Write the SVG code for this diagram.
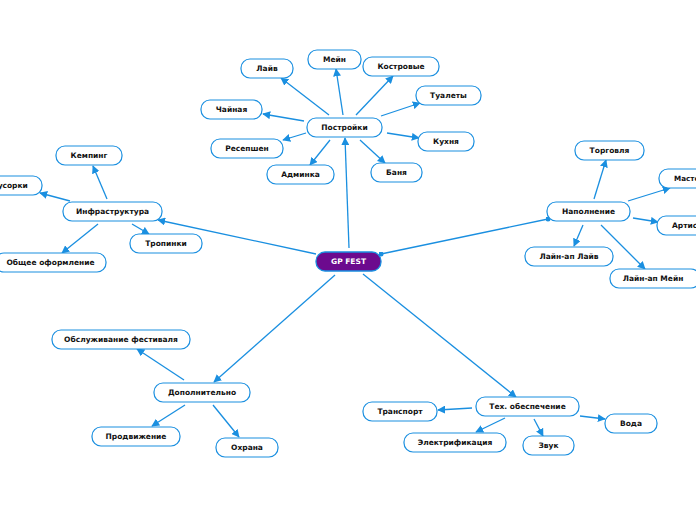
<svg xmlns="http://www.w3.org/2000/svg" width="696" height="520" viewBox="0 0 696 520">
<defs>
<marker id="arr" viewBox="0 0 10 10" refX="9" refY="5" markerWidth="8" markerHeight="8" markerUnits="userSpaceOnUse" orient="auto">
<path d="M0,0 L10,5 L0,10 z" fill="#1a8fe0"/>
</marker>
<marker id="dot" viewBox="0 0 10 10" refX="5" refY="5" markerWidth="5" markerHeight="5" markerUnits="userSpaceOnUse">
<circle cx="5" cy="5" r="5" fill="#1a8fe0"/>
</marker>
<style>
.n rect{fill:#fff;stroke:#1a8fe0;stroke-width:1.2}
text{font-family:"DejaVu Sans",Verdana,sans-serif;font-size:7.5px;font-weight:bold;fill:#111;text-anchor:middle;dominant-baseline:central}
.c line{stroke:#1a8fe0;stroke-width:1.3;marker-end:url(#arr)}
.c line.d{marker-start:url(#dot);marker-end:url(#dot)}
#main rect{fill:#6c0a8e;stroke:#1a8fe0;stroke-width:1.3}
#main text{fill:#fff}
</style>
</defs>
<rect width="696" height="520" fill="#fff"/>
<g class="c">
<line x1="349" y1="248" x2="345" y2="138"/>
<line x1="329" y1="115" x2="281" y2="78"/>
<line x1="343" y1="115" x2="336" y2="69"/>
<line x1="356" y1="115" x2="393" y2="76"/>
<line x1="381" y1="116" x2="420" y2="103"/>
<line x1="304" y1="121" x2="263" y2="114"/>
<line x1="387" y1="133" x2="419" y2="138"/>
<line x1="306" y1="133" x2="283" y2="140"/>
<line x1="330" y1="140" x2="310" y2="165"/>
<line x1="360" y1="140" x2="385" y2="163"/>
<line x1="316" y1="254" x2="158" y2="220"/>
<line x1="107" y1="199" x2="93" y2="166"/>
<line x1="70" y1="201" x2="40" y2="193"/>
<line x1="98" y1="224" x2="62" y2="253"/>
<line x1="132" y1="224" x2="149" y2="234"/>
<line class="d" x1="381" y1="254" x2="548" y2="219"/>
<line x1="594" y1="199" x2="606" y2="160"/>
<line x1="628" y1="201" x2="670" y2="188"/>
<line x1="633" y1="218" x2="658" y2="222"/>
<line x1="583" y1="225" x2="574" y2="246"/>
<line x1="601" y1="225" x2="645" y2="269"/>
<line x1="335" y1="275" x2="214" y2="382"/>
<line x1="184" y1="380" x2="137" y2="349"/>
<line x1="185" y1="405" x2="152" y2="426"/>
<line x1="213" y1="405" x2="239" y2="437"/>
<line x1="363" y1="274" x2="516" y2="397"/>
<line x1="472" y1="408" x2="438" y2="410"/>
<line x1="505" y1="418" x2="476" y2="432"/>
<line x1="534" y1="419" x2="543" y2="436"/>
<line x1="580" y1="416" x2="605" y2="419"/>
</g>
<g id="main"><rect x="316" y="252" width="65" height="19" rx="9"/><text x="348.5" y="261.5">GP FEST</text></g>
<g id="postroyki" class="n"><rect x="307" y="118" width="75" height="19" rx="9"/><text x="344.5" y="127.5">Постройки</text></g>
<g id="layv" class="n"><rect x="241" y="59" width="52" height="19" rx="9"/><text x="267" y="68.5">Лайв</text></g>
<g id="meyn" class="n"><rect x="308" y="50" width="53" height="19" rx="9"/><text x="334.5" y="59.5">Мейн</text></g>
<g id="kostrovye" class="n"><rect x="363" y="57" width="76" height="19" rx="9"/><text x="401" y="66.5">Костровые</text></g>
<g id="tualety" class="n"><rect x="416" y="86" width="65" height="19" rx="9"/><text x="448.5" y="95.5">Туалеты</text></g>
<g id="chaynaya" class="n"><rect x="201" y="100" width="61" height="19" rx="9"/><text x="231.5" y="109.5">Чайная</text></g>
<g id="kukhnya" class="n"><rect x="418" y="132" width="56" height="19" rx="9"/><text x="446" y="141.5">Кухня</text></g>
<g id="resepshen" class="n"><rect x="211" y="139" width="72" height="19" rx="9"/><text x="247" y="148.5">Ресепшен</text></g>
<g id="adminka" class="n"><rect x="267" y="165" width="67" height="19" rx="9"/><text x="300.5" y="174.5">Админка</text></g>
<g id="banya" class="n"><rect x="371" y="163" width="51" height="19" rx="9"/><text x="396.5" y="172.5">Баня</text></g>
<g id="infra" class="n"><rect x="63" y="202" width="99" height="19" rx="9"/><text x="112.5" y="211.5">Инфраструктура</text></g>
<g id="kemping" class="n"><rect x="56" y="146" width="66" height="19" rx="9"/><text x="89" y="155.5">Кемпинг</text></g>
<g id="musorki" class="n"><rect x="-24" y="176" width="66" height="19" rx="9"/><text x="9" y="185.5">Мусорки</text></g>
<g id="oformlenie" class="n"><rect x="-5" y="253" width="111" height="19" rx="9"/><text x="50.5" y="262.5">Общее оформление</text></g>
<g id="tropinki" class="n"><rect x="130" y="234" width="72" height="19" rx="9"/><text x="166" y="243.5">Тропинки</text></g>
<g id="napolnenie" class="n"><rect x="547" y="202" width="83" height="19" rx="9"/><text x="588.5" y="211.5">Наполнение</text></g>
<g id="torgovlya" class="n"><rect x="575" y="141" width="69" height="19" rx="9"/><text x="609.5" y="150.5">Торговля</text></g>
<g id="master" class="n"><rect x="659" y="169" width="90" height="19" rx="9"/><text x="674" y="178.5" style="text-anchor:start;font-size:7.2px">Мастер-классы</text></g>
<g id="artisty" class="n"><rect x="657" y="216" width="70" height="19" rx="9"/><text x="672" y="225.5" style="text-anchor:start">Артисты</text></g>
<g id="lineup-layv" class="n"><rect x="525" y="247" width="88" height="19" rx="9"/><text x="569" y="256.5">Лайн-ап Лайв</text></g>
<g id="lineup-meyn" class="n"><rect x="610" y="269" width="90" height="19" rx="9"/><text x="653" y="278.5">Лайн-ап Мейн</text></g>
<g id="dop" class="n"><rect x="154" y="383" width="96" height="19" rx="9"/><text x="202" y="392.5">Дополнительно</text></g>
<g id="obsluzh" class="n"><rect x="52" y="330" width="138" height="19" rx="9"/><text x="121" y="339.5">Обслуживание фестиваля</text></g>
<g id="prodv" class="n"><rect x="92" y="427" width="88" height="19" rx="9"/><text x="136" y="436.5">Продвижение</text></g>
<g id="okhrana" class="n"><rect x="216" y="438" width="62" height="19" rx="9"/><text x="247" y="447.5">Охрана</text></g>
<g id="tekh" class="n"><rect x="476" y="397" width="103" height="19" rx="9"/><text x="527.5" y="406.5">Тех. обеспечение</text></g>
<g id="transport" class="n"><rect x="363" y="402" width="74" height="19" rx="9"/><text x="400" y="411.5">Транспорт</text></g>
<g id="elektr" class="n"><rect x="404" y="433" width="102" height="19" rx="9"/><text x="455" y="442.5">Электрификация</text></g>
<g id="zvuk" class="n"><rect x="523" y="436" width="51" height="19" rx="9"/><text x="548.5" y="445.5">Звук</text></g>
<g id="voda" class="n"><rect x="605" y="414" width="52" height="19" rx="9"/><text x="631" y="423.5">Вода</text></g>
</svg>
